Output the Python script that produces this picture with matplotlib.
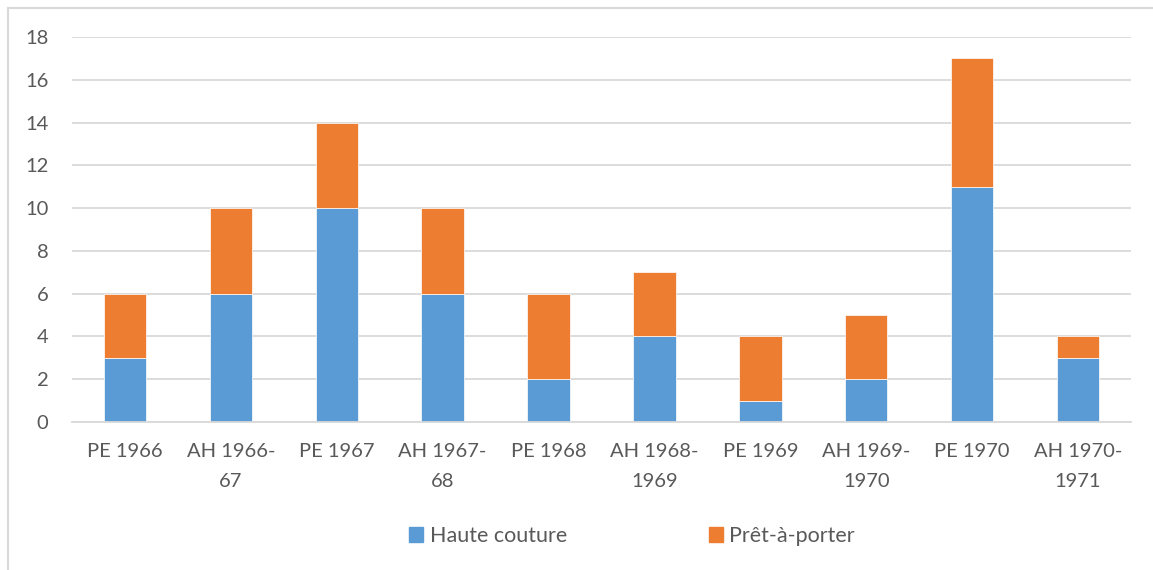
import matplotlib.pyplot as plt
import numpy as np
from matplotlib.patches import Patch
from matplotlib.lines import Line2D

categories = ['PE 1966', 'AH 1966-\n67', 'PE 1967', 'AH 1967-\n68', 'PE 1968',
              'AH 1968-\n1969', 'PE 1969', 'AH 1969-\n1970', 'PE 1970', 'AH 1970-\n1971']
haute_couture = [3, 6, 10, 6, 2, 4, 1, 2, 11, 3]
pret_a_porter = [3, 4, 4, 4, 4, 3, 3, 3, 6, 1]
y_ticks = [0, 2, 4, 6, 8, 10, 12, 14, 16, 18]

blue = '#5B9BD5'
orange = '#ED7D31'
grid = '#D9D9D9'
text_col = '#595959'

plt.rcParams['font.family'] = ['Lato', 'DejaVu Sans']

fig = plt.figure(figsize=(11.53, 5.70), dpi=100)
ax = fig.add_axes([72/1153, 1-422/570, (1131-72)/1153, (422-37)/570])

x = np.arange(len(categories))
ax.bar(x, haute_couture, width=0.4, color=blue, edgecolor='white', linewidth=0.5, zorder=3)
ax.bar(x, pret_a_porter, width=0.4, bottom=haute_couture, color=orange,
       edgecolor='white', linewidth=0.5, zorder=3)

ax.set_xlim(-0.5, len(categories) - 0.5)
ax.set_ylim(0, 18)
ax.set_yticks(y_ticks)
ax.set_xticks(x)
ax.set_xticklabels(categories, linespacing=1.95)
ax.yaxis.grid(True, color=grid, linewidth=1.3, zorder=0)
for s in ['top', 'right', 'left']:
    ax.spines[s].set_visible(False)
ax.spines['bottom'].set_color(grid)
ax.spines['bottom'].set_linewidth(1.3)
ax.spines['bottom'].set_zorder(4)
ax.tick_params(axis='both', length=0, labelsize=14.5, labelcolor=text_col)
ax.tick_params(axis='y', pad=17)
ax.tick_params(axis='x', pad=15)

handles = [Patch(color=blue, label='Haute couture'), Patch(color=orange, label='Prêt-à-porter')]
leg = fig.legend(handles=handles, loc='center', bbox_to_anchor=(632/1153, 1-536/570),
                 ncol=2, frameon=False, fontsize=15.5, handlelength=0.65, handleheight=0.65,
                 handletextpad=0.3, columnspacing=6.6)
for t in leg.get_texts():
    t.set_color(text_col)

fig.add_artist(Line2D([8/1153, 8/1153], [0, 1-8/570], color=grid, linewidth=1.5))
fig.add_artist(Line2D([8/1153, 1], [1-8/570, 1-8/570], color=grid, linewidth=1.5))

fig.savefig('out.png', dpi=100)
